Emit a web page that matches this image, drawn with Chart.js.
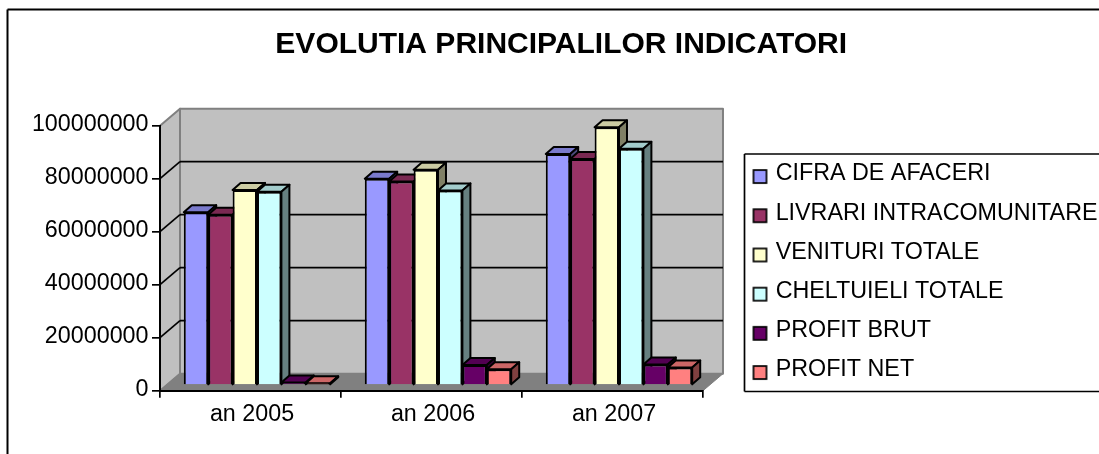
<!DOCTYPE html>
<html>
<head>
<meta charset="utf-8">
<style>html,body{margin:0;padding:0;background:#fff}canvas{display:block}</style>
<script src="https://cdn.jsdelivr.net/npm/chart.js@4/dist/chart.umd.min.js"></script>
</head>
<body>
<canvas id="c" width="1099" height="454"></canvas>
<script>
const titleText = "EVOLUTIA PRINCIPALILOR INDICATORI";
const categories = ["an 2005", "an 2006", "an 2007"];
const yTicks = [0, 20000000, 40000000, 60000000, 80000000, 100000000];
const cifraDeAfaceri = [65300000, 77900000, 87200000];
const livrariIntracomunitare = [64300000, 76900000, 85400000];
const venituriTotale = [73700000, 81300000, 97300000];
const cheltuieliTotale = [73000000, 73500000, 89200000];
const profitBrut = [1000000, 7600000, 7800000];
const profitNet = [700000, 6000000, 6700000];
const seriesNames = ["CIFRA DE AFACERI", "LIVRARI INTRACOMUNITARE", "VENITURI TOTALE", "CHELTUIELI TOTALE", "PROFIT BRUT", "PROFIT NET"];
const seriesValues = [cifraDeAfaceri, livrariIntracomunitare, venituriTotale, cheltuieliTotale, profitBrut, profitNet];
const seriesColors = ["#9999FF", "#993366", "#FFFFCC", "#CCFFFF", "#660066", "#FF8080"];

const FONT = "'Liberation Sans', Arial, sans-serif";
const TEXT = 23.3;
const WALL_DX = 20, WALL_DY = 17;     // depth of the box
const BAR_SHIFT_X = 6.5, BAR_SHIFT_Y = 5.5; // bars stand inside the box
const BAR_DX = 8, BAR_DY = 7;         // depth of a bar
const LINE = 2;
const GRID = 1.7;

function shade(hex, f) {
  const n = parseInt(hex.slice(1), 16);
  const c = [(n >> 16) & 255, (n >> 8) & 255, n & 255].map(v => Math.round(v * f));
  return `rgb(${c[0]},${c[1]},${c[2]})`;
}
function poly(ctx, pts, fill, stroke, lw) {
  ctx.beginPath();
  pts.forEach((p, i) => i ? ctx.lineTo(p[0], p[1]) : ctx.moveTo(p[0], p[1]));
  ctx.closePath();
  if (fill) { ctx.fillStyle = fill; ctx.fill(); }
  if (stroke) { ctx.strokeStyle = stroke; ctx.lineWidth = lw; ctx.lineJoin = "round"; ctx.stroke(); }
}
function seg(ctx, a, b, color, lw) {
  ctx.beginPath(); ctx.moveTo(a[0], a[1]); ctx.lineTo(b[0], b[1]);
  ctx.strokeStyle = color; ctx.lineWidth = lw; ctx.stroke();
}
// legend swatch: a small square sitting low beside its label
function swatch(color) {
  const c = document.createElement("canvas");
  c.width = 30; c.height = 30;
  const x = c.getContext("2d");
  x.fillStyle = color; x.fillRect(11, 11, 13, 13);
  x.strokeStyle = "#000"; x.lineWidth = 1.7; x.strokeRect(11, 11, 13, 13);
  return c;
}

const box3d = {
  id: "box3d",
  afterLayout(chart) {
    const lg = chart.legend;
    lg.left = 751 - lg.options.labels.padding; lg.right = 1099;
    lg.top = 146.5; lg.bottom = 454;
    chart.scales.y.left = 20; // room for the long tick labels
  },
  beforeDraw(chart) {
    const { ctx, chartArea: a, scales: { y } } = chart;
    const L = a.left, R = a.right, T = y.getPixelForValue(100000000), B = y.getPixelForValue(0);
    const d = WALL_DX, e = WALL_DY;
    ctx.save();
    ctx.fillStyle = "#fff"; ctx.fillRect(0, 0, chart.width, chart.height);
    // outer frame (open on the right and bottom, as cropped)
    seg(ctx, [7.5, 454], [7.5, 9.5], "#000", 2);
    seg(ctx, [7.5, 9.5], [1099, 9.5], "#000", 2);
    // legend frame
    seg(ctx, [744.5, 154], [1099, 154], "#000", 1.7);
    seg(ctx, [744.5, 154], [744.5, 391.5], "#000", 1.7);
    seg(ctx, [744.5, 391.5], [1099, 391.5], "#000", 1.7);
    // back wall, side wall, floor
    poly(ctx, [[L + d, T - e], [R + d, T - e], [R + d, B - e], [L + d, B - e]], "#C0C0C0", "#808080", 2);
    poly(ctx, [[L, T], [L + d, T - e], [L + d, B - e], [L, B]], "#C0C0C0", "#808080", 2);
    poly(ctx, [[L, B], [L + d, B - e], [R + d, B - e], [R, B]], "#808080", "#808080", 1);
    // gridlines
    yTicks.filter(v => v > 0 && v < 100000000).forEach(v => {
      const p = y.getPixelForValue(v);
      seg(ctx, [L, p], [L + d, p - e], "#000", GRID);
      seg(ctx, [L + d, p - e], [R + d, p - e], "#000", GRID);
    });
    ctx.restore();
  },
  // Paint series left to right so each bar's front covers its left neighbour's side.
  beforeDatasetsDraw(chart) {
    const { ctx } = chart;
    seriesNames.forEach((_, i) => {
      const meta = chart.getDatasetMeta(i), color = seriesColors[i];
      ctx.save();
      ctx.translate(BAR_SHIFT_X, -BAR_SHIFT_Y);
      meta.data.forEach(el => {
        const l = el.x - el.width / 2, r = el.x + el.width / 2, t = el.y, b = el.base;
        poly(ctx, [[l, t], [l + BAR_DX, t - BAR_DY], [r + BAR_DX, t - BAR_DY], [r, t]], shade(color, 0.8), "#000", LINE);
        poly(ctx, [[r, t], [r + BAR_DX, t - BAR_DY], [r + BAR_DX, b - BAR_DY], [r, b]], shade(color, 0.5), "#000", LINE);
      });
      meta.controller.draw();
      ctx.restore();
    });
    return false;
  }
};

new Chart(document.getElementById("c"), {
  type: "bar",
  data: {
    labels: categories,
    datasets: seriesNames.map((name, i) => ({
      label: name,
      data: seriesValues[i],
      backgroundColor: seriesColors[i],
      borderColor: "#000",
      borderWidth: LINE,
      categoryPercentage: 0.809,
      barPercentage: 1
    }))
  },
  plugins: [box3d],
  options: {
    responsive: false,
    animation: false,
    events: [],
    layout: { autoPadding: false, padding: { left: 47, right: 23.6, top: 0, bottom: 23.3 } },
    scales: {
      x: {
        grid: { display: true, drawOnChartArea: false, drawTicks: true, tickLength: 7, color: "#000", lineWidth: GRID, offset: true },
        border: { display: true, color: "#000", width: 2 },
        ticks: { color: "#000", font: { family: FONT, size: TEXT }, padding: 3, maxRotation: 0, labelOffset: 1.5 },
        afterFit(s) { s.height = 40; }
      },
      y: {
        min: 0, max: 100000000,
        afterBuildTicks(s) { s.ticks = yTicks.map(v => ({ value: v })); },
        grid: { display: true, drawOnChartArea: false, drawTicks: true, tickLength: 8, color: "#000", lineWidth: GRID },
        border: { display: true, color: "#000", width: 2 },
        ticks: { color: "#000", font: { family: FONT, size: TEXT }, padding: 3.5, labelOffset: -1.5, callback: v => String(v) },
        afterFit(s) { s.width = 113; }
      }
    },
    plugins: {
      title: {
        display: true, text: titleText, color: "#000",
        font: { family: FONT, size: 30, weight: "bold" },
        padding: { top: 27, bottom: 62.7 }
      },
      legend: {
        display: true, position: "right", align: "start", maxWidth: 600,
        labels: {
          color: "#000", font: { family: FONT, size: TEXT },
          boxWidth: 13, boxHeight: 13, padding: 15.9, usePointStyle: true,
          generateLabels(chart) {
            return Chart.defaults.plugins.legend.labels.generateLabels(chart)
              .map((it, i) => ({ ...it, pointStyle: swatch(seriesColors[i]) }));
          }
        }
      },
      tooltip: { enabled: false }
    }
  }
});
</script>
</body>
</html>
